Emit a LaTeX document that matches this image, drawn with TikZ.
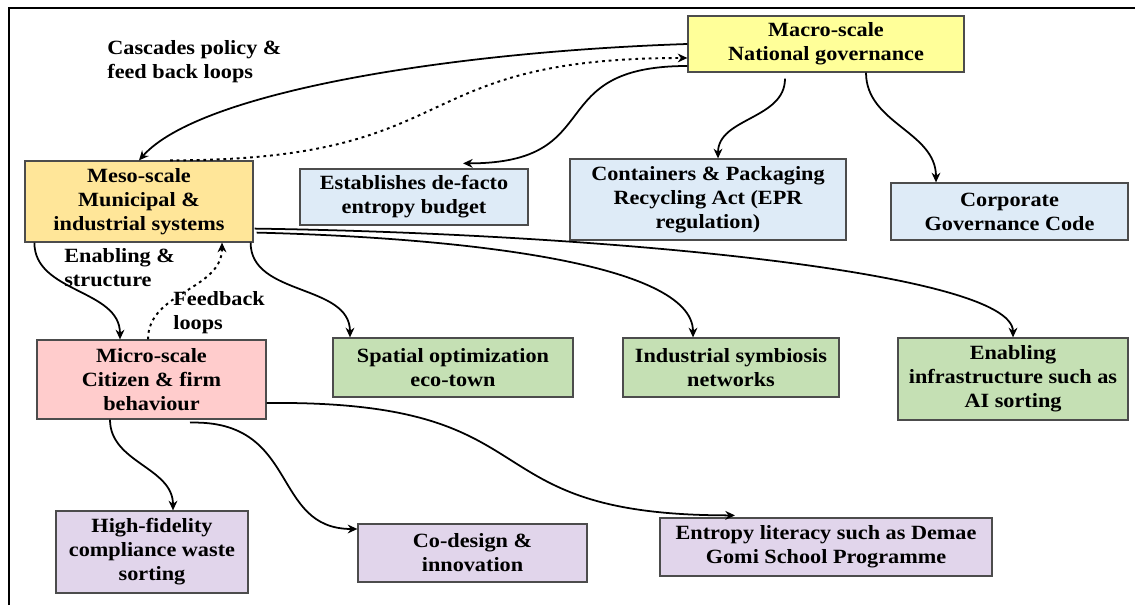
\documentclass[tikz,border=0pt]{standalone}
\usepackage{fontspec}
\setmainfont{Liberation Serif}[FakeStretch=1.1]
\usepackage{xcolor}
\usetikzlibrary{shapes,arrows.meta}

\definecolor{macroyellow}{HTML}{FFFF99}
\definecolor{mesogold}{HTML}{FFE699}
\definecolor{micropink}{HTML}{FFCCCC}
\definecolor{policyblue}{HTML}{DEEBF7}
\definecolor{infragreen}{HTML}{C5E0B4}
\definecolor{citizenlilac}{HTML}{E1D5EB}

\begin{document}
\begin{tikzpicture}[>={Stealth[length=5.5pt,width=5pt]}]
	\useasboundingbox (0,0) rectangle (22.7,12.1);
	\draw[line width=0.9pt] (0.18,0) -- (0.18,11.94) -- (22.7,11.94);
	\tikzstyle{every node}=[font=\fontsize{11.5}{13.7}\selectfont\bfseries, align=center, draw=black!70, line width=0.7pt, inner sep=2pt]
	% the three scales
	\draw (16.52,11.22) node[minimum width=5.52cm, minimum height=1.12cm, fill=macroyellow] (macro) {Macro-scale\\National governance};
	\draw (2.78,8.07) node[minimum width=4.56cm, minimum height=1.62cm, fill=mesogold] (meso) {Meso-scale\\Municipal \&\\industrial systems};
	\draw (3.03,4.51) node[minimum width=4.58cm, minimum height=1.58cm, fill=micropink] (micro) {Micro-scale\\Citizen \& firm\\behaviour};
	% national instruments
	\draw (8.28,8.16) node[minimum width=4.56cm, minimum height=1.12cm, fill=policyblue] (budget) {Establishes de-facto\\entropy budget};
	\draw (14.16,8.11) node[minimum width=5.52cm, minimum height=1.62cm, fill=policyblue] (eprlaw) {Containers \& Packaging\\Recycling Act (EPR\\regulation)};
	\draw (20.19,7.87) node[minimum width=4.74cm, minimum height=1.14cm, fill=policyblue] (govcode) {Corporate\\Governance Code};
	% municipal systems
	\draw (9.06,4.75) node[minimum width=4.8cm, minimum height=1.18cm, fill=infragreen] (ecotown) {Spatial optimization\\eco-town};
	\draw (14.62,4.75) node[minimum width=4.32cm, minimum height=1.18cm, fill=infragreen] (symbiosis) {Industrial symbiosis\\networks};
	\draw (20.26,4.52) node[minimum width=4.6cm, minimum height=1.64cm, fill=infragreen] (aisort) {Enabling\\infrastructure such as\\AI sorting};
	% citizen behaviour
	\draw (3.04,1.06) node[minimum width=3.84cm, minimum height=1.64cm, fill=citizenlilac] (sorting) {High-fidelity\\compliance waste\\sorting};
	\draw (9.45,1.04) node[minimum width=4.58cm, minimum height=1.16cm, fill=citizenlilac] (codesign) {Co-design \&\\innovation};
	\draw (16.52,1.16) node[minimum width=6.64cm, minimum height=1.16cm, fill=citizenlilac] (literacy) {Entropy literacy such as Demae\\Gomi School Programme};
	\tikzstyle{every node}=[font=\fontsize{11.5}{13.7}\selectfont\bfseries, align=left, anchor=west, inner sep=0pt]
	\draw (2.14,10.86) node (cascadelbl) {Cascades policy \&\\feed back loops};
	\draw (1.28,6.74) node (enablelbl) {Enabling \&\\structure};
	\draw (3.46,5.84) node (feedbacklbl) {Feedback\\loops};
	% connectors
	\tikzstyle{flow}=[line width=1pt, ->]
	\tikzstyle{loop}=[line width=1.1pt, ->, dash pattern=on 1.6pt off 2.2pt]
	\draw [flow] (macro.west) .. controls +(-4.8,-0.16) and +(1.2,1.36) .. (meso.north);
	\draw [loop] ([xshift=0.62cm]meso.north) .. controls +(6,0) and +(-5.76,0) .. ([yshift=-0.28cm]macro.west);
	\draw [flow] ([yshift=-0.44cm]macro.west) .. controls +(-2.96,0) and +(2.94,0) .. ([xshift=0.98cm, yshift=0.1cm]budget.north);
	\draw [flow] ([xshift=-0.82cm, yshift=-0.12cm]macro.south) to[out=-90, in=90] ([xshift=0.2cm]eprlaw.north);
	\draw [flow] ([xshift=0.8cm]macro.south) to[out=-90, in=90] ([xshift=-1.47cm]govcode.north);
	\draw [flow] ([xshift=-0.06cm]meso.south east) to[out=-90, in=90] ([xshift=-2.06cm]ecotown.north);
	\draw [flow] ([xshift=0.06cm, yshift=0.2cm]meso.south east) .. controls +(4,-0.1) and +(0,1.5) .. ([xshift=-0.76cm]symbiosis.north);
	\draw [flow] ([xshift=0.02cm, yshift=0.28cm]meso.south east) .. controls +(7,-0.1) and +(0,1.3) .. (aisort.north);
	\draw [flow] ([xshift=0.2cm]meso.south west) to[out=-90, in=90] ([xshift=-0.63cm]micro.north);
	\draw [loop] ([xshift=-0.07cm]micro.north) to[out=90, in=-90] ([xshift=1.66cm]meso.south);
	\draw [flow] ([xshift=-0.83cm]micro.south) to[out=-90, in=90] ([xshift=0.42cm]sorting.north);
	\draw [flow] ([xshift=0.77cm, yshift=-0.06cm]micro.south) .. controls +(2.2,0.06) and +(-1.74,0) .. ([yshift=0.48cm]codesign.west);
	\draw [flow] ([yshift=-0.47cm]micro.east) .. controls +(5.9,0.06) and +(-5.5,0) .. ([xshift=-1.82cm, yshift=0.04cm]literacy.north);
\end{tikzpicture}
\end{document}
